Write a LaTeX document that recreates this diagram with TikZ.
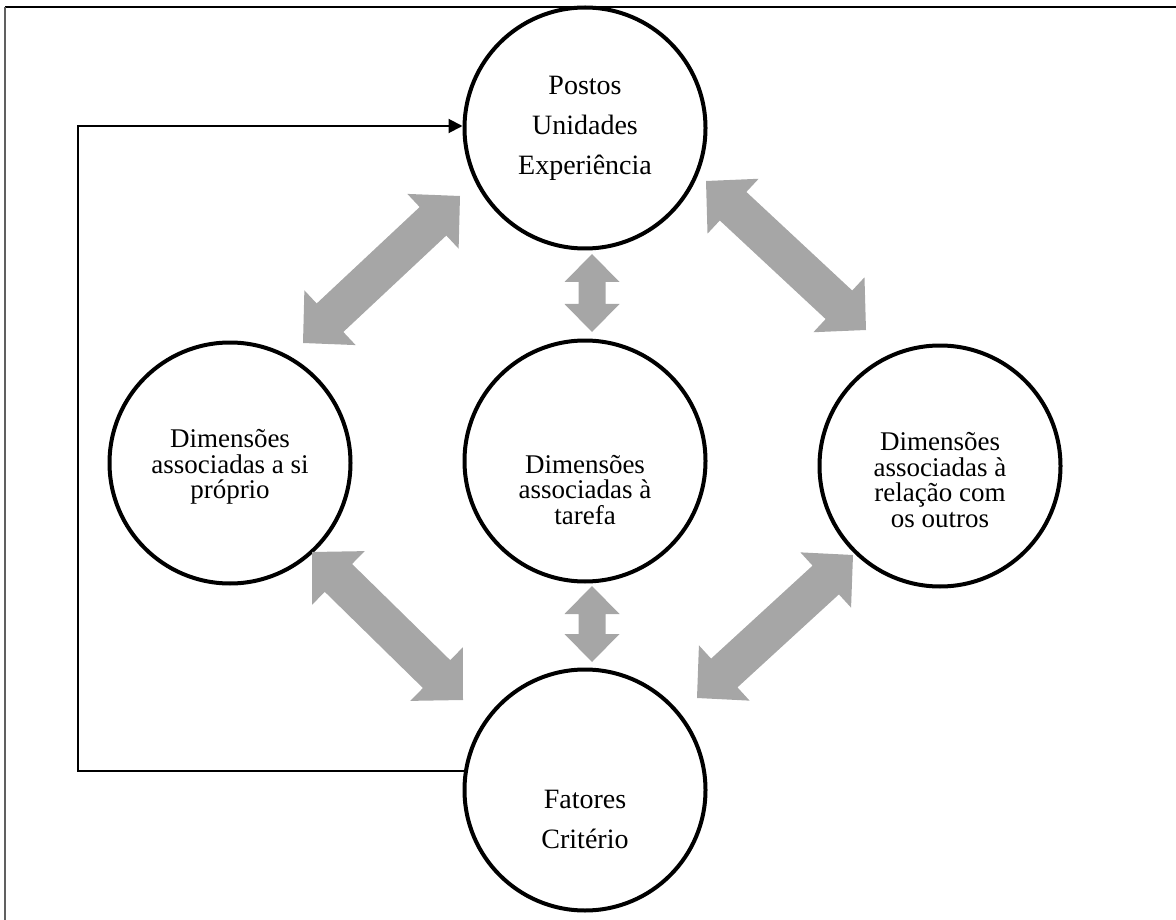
\documentclass[tikz,border=0pt]{standalone}
\usepackage{fontspec}
\setmainfont{Liberation Serif}
\usetikzlibrary{calc,arrows.meta}
\definecolor{arrowgray}{HTML}{A6A6A6}
\definecolor{framegray}{HTML}{606060}
\newcommand\dblarrow[5]{%
 \fill[arrowgray] (#1) -- ($(#1)!#5!(#2)!#4!90:(#2)$) -- ($(#1)!#5!(#2)!#3!90:(#2)$)
   -- ($(#2)!#5!(#1)!#3!-90:(#1)$) -- ($(#2)!#5!(#1)!#4!-90:(#1)$) -- (#2)
   -- ($(#2)!#5!(#1)!#4!90:(#1)$) -- ($(#2)!#5!(#1)!#3!90:(#1)$)
   -- ($(#1)!#5!(#2)!#3!-90:(#2)$) -- ($(#1)!#5!(#2)!#4!-90:(#2)$) -- cycle;}
\begin{document}
\begin{tikzpicture}[x=1pt,y=-1pt,
  circ/.style={circle, draw, line width=4pt, minimum size=241pt, inner sep=0pt},
  lbl/.style={align=center, font=\fontsize{27}{25.5}\selectfont},
  big/.style={align=center, font=\fontsize{28}{40}\selectfont},
  fb/.style={line width=2pt, -{Triangle[length=14pt,width=14pt]}}]
\useasboundingbox (0,0) rectangle (1176,920);
% frame
\draw[line width=2pt] (5,7) -- (1176,7);
\draw[framegray, line width=2pt] (5,7) -- (5,920);
% circles
\node[circ] (top) at (585,128) {};
\node[circ] (left) at (230,463) {};
\node[circ] (mid) at (585,461) {};
\node[circ] (right) at (940,466) {};
\node[circ] (bot) at (585,790) {};
% texts
\node[big] (toptxt) at (585,128) {Postos\\Unidades\\Experiência};
\node[lbl] (lefttxt) at (230,467) {Dimensões\\associadas a si\\próprio};
\node[lbl] (midtxt) at (585,490) {Dimensões\\associadas à\\tarefa};
\node[lbl] (righttxt) at (940,480) {Dimensões\\associadas à\\relação com\\os outros};
\node[big] (bottxt) at (585,819) {Fatores\\Critério};
% gray double arrows
\coordinate (a1s) at (303,343); \coordinate (a1e) at (460,196);
\coordinate (a2s) at (706,181); \coordinate (a2e) at (866,330);
\coordinate (a3s) at (312,552); \coordinate (a3e) at (463,700);
\coordinate (a4s) at (853,555); \coordinate (a4e) at (697,698);
\coordinate (a5s) at (592,254); \coordinate (a5e) at (592,332);
\coordinate (a6s) at (592,586); \coordinate (a6e) at (592,662);
\dblarrow{a1s}{a1e}{19.5pt}{37.5pt}{37pt}
\dblarrow{a2s}{a2e}{19.5pt}{37.5pt}{37pt}
\dblarrow{a3s}{a3e}{19.5pt}{37.5pt}{37pt}
\dblarrow{a4s}{a4e}{19.5pt}{37.5pt}{37pt}
\dblarrow{a5s}{a5e}{13.5pt}{27.5pt}{28pt}
\dblarrow{a6s}{a6e}{13.5pt}{27.5pt}{28pt}
% feedback connector
\coordinate (fbc) at (78,126);
\draw[fb] (bot.171.5) -| (fbc) -- (fbc -| top.west);
\end{tikzpicture}
\end{document}
